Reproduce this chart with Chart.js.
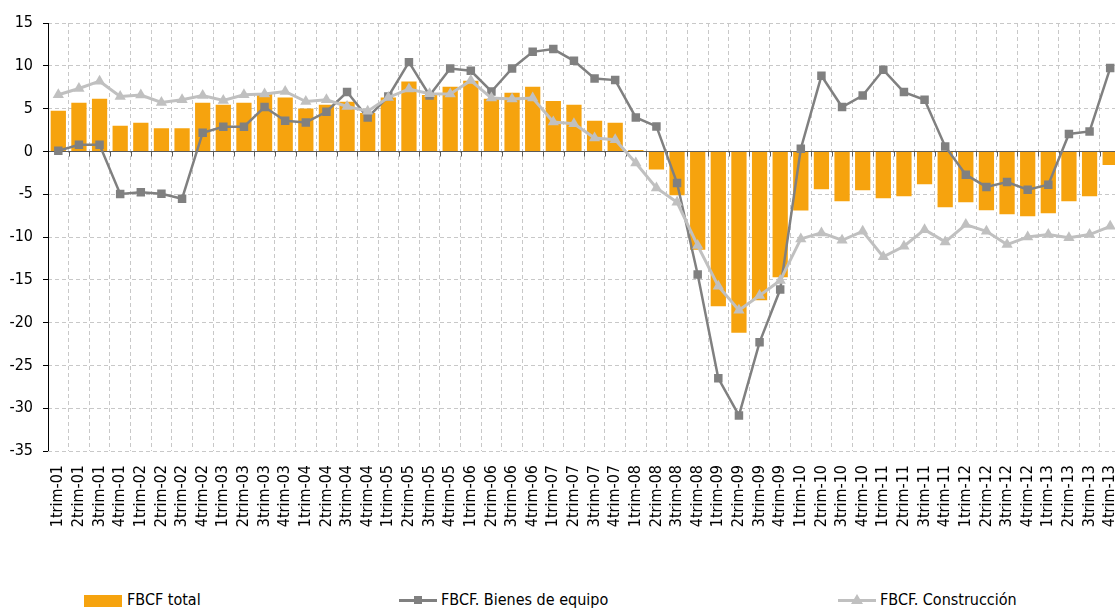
<!DOCTYPE html>
<html>
<head>
<meta charset="utf-8">
<script src="https://cdn.jsdelivr.net/npm/chart.js@4/dist/chart.umd.min.js"></script>
<style>
  html, body { margin: 0; padding: 0; background: #fff; overflow: hidden; width: 1115px; height: 608px; }
  #wrap { position: absolute; left: 0; top: 0; width: 1127px; height: 545px; }
  .lg { position: absolute; font-family: "DejaVu Sans Condensed", "DejaVu Sans", sans-serif; font-size: 16px; color: #000; top: 590px; white-space: nowrap; }
  .box { position: absolute; left: 84px; top: 595px; width: 38px; height: 12px; background: #F6A30E; }
  .ln { position: absolute; height: 3px; top: 599px; }
  .sq { position: absolute; width: 8px; height: 8px; background: #808080; top: 596px; }
  .tri { position: absolute; width: 0; height: 0; border-left: 6px solid transparent; border-right: 6px solid transparent; border-bottom: 10px solid #C0C0C0; top: 594px; }
</style>
</head>
<body>
<div id="wrap"><canvas id="canvas_fbcf" width="1127" height="545"></canvas></div>

<div class="box"></div>
<div class="lg" style="left:127px">FBCF total</div>
<div class="ln" style="left:399px;width:38px;background:#808080"></div>
<div class="sq" style="left:414px"></div>
<div class="lg" style="left:441px">FBCF. Bienes de equipo</div>
<div class="ln" style="left:838px;width:38px;background:#C0C0C0"></div>
<div class="tri" style="left:851px"></div>
<div class="lg" style="left:880px">FBCF. Construcción</div>

<script>
var trimestres = [
  '1trim-01','2trim-01','3trim-01','4trim-01','1trim-02','2trim-02','3trim-02','4trim-02',
  '1trim-03','2trim-03','3trim-03','4trim-03','1trim-04','2trim-04','3trim-04','4trim-04',
  '1trim-05','2trim-05','3trim-05','4trim-05','1trim-06','2trim-06','3trim-06','4trim-06',
  '1trim-07','2trim-07','3trim-07','4trim-07','1trim-08','2trim-08','3trim-08','4trim-08',
  '1trim-09','2trim-09','3trim-09','4trim-09','1trim-10','2trim-10','3trim-10','4trim-10',
  '1trim-11','2trim-11','3trim-11','4trim-11','1trim-12','2trim-12','3trim-12','4trim-12',
  '1trim-13','2trim-13','3trim-13','4trim-13'
];
var fbcfTotal = [4.75,5.68,6.15,3.0,3.35,2.7,2.7,5.68,5.45,5.68,
  6.7,6.3,5.0,5.45,5.8,4.5,6.3,8.17,6.6,7.55,
  8.25,6.15,6.85,7.55,5.9,5.45,3.58,3.35,0.15,-2.1,
  -5.13,-11.5,-18.1,-21.2,-17.4,-14.7,-6.9,-4.43,-5.83,-4.55,
  -5.48,-5.25,-3.85,-6.53,-5.95,-6.88,-7.35,-7.58,-7.23,-5.83,
  -5.25,-1.6];
var fbcfEquipo = [0.08,0.78,0.78,-4.97,-4.78,-4.94,-5.52,2.18,2.88,2.88,
  5.18,3.58,3.38,4.63,6.93,3.95,6.42,10.43,6.53,9.69,
  9.42,7.0,9.69,11.63,11.95,10.58,8.52,8.33,3.97,2.92,
  -3.69,-14.39,-26.5,-30.84,-22.3,-16.14,0.31,8.83,5.18,6.53,
  9.53,6.93,6.03,0.58,-2.72,-4.15,-3.57,-4.47,-3.89,2.03,
  2.33,9.73];
var fbcfConstruccion = [6.62,7.35,8.2,6.42,6.58,5.72,6.03,6.53,5.95,6.62,
  6.7,7.0,5.83,6.03,5.25,4.7,6.3,7.28,6.73,6.7,
  8.28,6.23,6.11,6.23,3.43,3.23,1.56,1.36,-1.35,-4.27,
  -5.95,-11.0,-15.75,-18.55,-16.84,-15.09,-10.22,-9.52,-10.38,-9.33,
  -12.32,-11.08,-9.14,-10.57,-8.55,-9.33,-10.89,-9.99,-9.72,-10.1,
  -9.72,-8.75];

var fontFam = '"DejaVu Sans Condensed", "DejaVu Sans", sans-serif';

// eje en cero + marcas, dibujado encima de las barras y debajo de las lineas
var ejeCero = {
  id: 'ejeCero',
  afterDatasetDraw: function(chart, args) {
    if (args.index !== 0) return;
    var ctx = chart.ctx, y = chart.scales.y, a = chart.chartArea;
    var y0 = Math.round(y.getPixelForValue(0)) + 0.5;
    ctx.save();
    ctx.strokeStyle = '#5a5a5a';
    ctx.lineWidth = 1;
    ctx.beginPath();
    ctx.moveTo(a.left, y0); ctx.lineTo(a.right, y0);
    var w = (a.right - a.left) / trimestres.length;
    for (var i = 0; i <= trimestres.length; i++) {
      var xx = Math.round(a.left + i * w) + 0.5;
      ctx.moveTo(xx, y0); ctx.lineTo(xx, y0 + 5);
    }
    ctx.stroke();
    ctx.strokeStyle = '#000';
    ctx.beginPath();
    ctx.moveTo(a.left + 0.5, a.top); ctx.lineTo(a.left + 0.5, a.bottom);
    ctx.stroke();
    ctx.restore();
  }
};

var config = {
  type: 'bar',
  data: {
    labels: trimestres,
    datasets: [{
      type: 'bar',
      label: 'FBCF total',
      data: fbcfTotal,
      backgroundColor: '#F6A30E',
      barPercentage: 0.74,
      categoryPercentage: 1.0,
      order: 3
    }, {
      type: 'line',
      label: 'FBCF. Bienes de equipo',
      data: fbcfEquipo,
      borderColor: '#808080',
      backgroundColor: '#808080',
      borderWidth: 2.5,
      pointStyle: 'rect',
      pointRadius: 6,
      pointBorderWidth: 0,
      tension: 0,
      order: 2
    }, {
      type: 'line',
      label: 'FBCF. Construcción',
      data: fbcfConstruccion,
      borderColor: '#C0C0C0',
      backgroundColor: '#C0C0C0',
      borderWidth: 3,
      pointStyle: 'triangle',
      pointRadius: 6.5,
      pointBorderWidth: 0,
      tension: 0,
      order: 1
    }]
  },
  options: {
    responsive: false,
    animation: false,
    layout: { padding: { top: 23, left: 0, right: 0, bottom: 0 } },
    plugins: { legend: { display: false }, tooltip: { enabled: false } },
    scales: {
      x: {
        offset: true,
        grid: { offset: true, color: '#c8c8c8', drawTicks: false },
        border: { display: false, dash: [4, 3] },
        ticks: { color: '#000', font: { family: fontFam, size: 16 }, minRotation: 90, maxRotation: 90, autoSkip: false, padding: 14 },
        afterFit: function(s) { s.height = 545 - 451; s.paddingLeft = 0; s.paddingRight = 0; }
      },
      y: {
        min: -35, max: 15,
        grid: {
          color: function(c) { return c.tick && c.tick.value === 0 ? 'rgba(0,0,0,0)' : '#c8c8c8'; },
          tickColor: '#000', tickLength: 5, tickBorderDash: []
        },
        border: { display: false, dash: [4, 3] },
        ticks: { stepSize: 5, color: '#000', font: { family: fontFam, size: 16 }, padding: 10 },
        afterFit: function(s) { s.width = 48; }
      }
    }
  },
  plugins: [ejeCero]
};

var ctx_fbcf = document.getElementById('canvas_fbcf').getContext('2d');
new Chart(ctx_fbcf, config);
</script>
</body>
</html>
